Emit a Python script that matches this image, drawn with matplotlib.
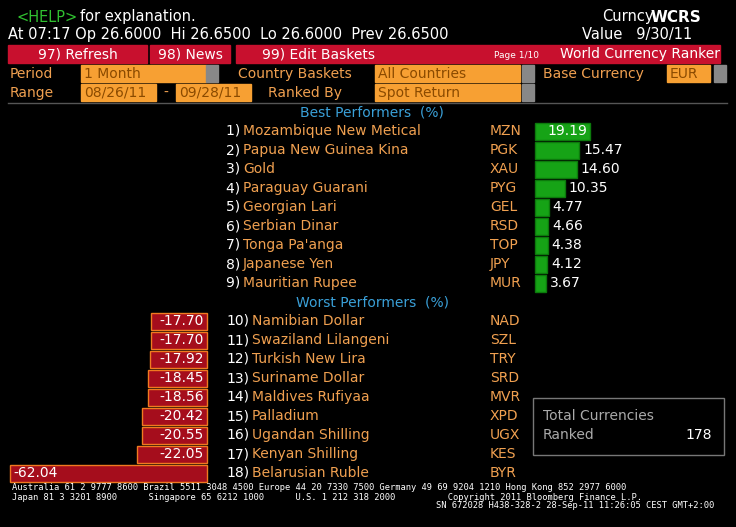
import matplotlib
matplotlib.use('Agg')
import matplotlib.pyplot as plt
from matplotlib.patches import Rectangle

best_names = ["Mozambique New Metical", "Papua New Guinea Kina", "Gold", "Paraguay Guarani",
              "Georgian Lari", "Serbian Dinar", "Tonga Pa'anga", "Japanese Yen", "Mauritian Rupee"]
best_codes = ["MZN", "PGK", "XAU", "PYG", "GEL", "RSD", "TOP", "JPY", "MUR"]
best_vals = [19.19, 15.47, 14.60, 10.35, 4.77, 4.66, 4.38, 4.12, 3.67]

worst_names = ["Namibian Dollar", "Swaziland Lilangeni", "Turkish New Lira", "Suriname Dollar",
               "Maldives Rufiyaa", "Palladium", "Ugandan Shilling", "Kenyan Shilling", "Belarusian Ruble"]
worst_codes = ["NAD", "SZL", "TRY", "SRD", "MVR", "XPD", "UGX", "KES", "BYR"]
worst_vals = [-17.70, -17.70, -17.92, -18.45, -18.56, -20.42, -20.55, -22.05, -62.04]

ORANGE = '#f0a050'
RED = '#c8102e'
BLUE = '#3aa0d8'
FONT = 'DejaVu Sans'

fig = plt.figure(figsize=(7.36, 5.27), dpi=100, facecolor='black')
ax = fig.add_axes([0, 0, 1, 1])
ax.set_xlim(0, 736)
ax.set_ylim(527, 0)
ax.axis('off')
ax.set_facecolor('black')

def t(x, y, s, c='white', size=10, ha='left', **kw):
    ax.text(x, y, s, color=c, fontsize=size, ha=ha, va='center', family=FONT, **kw)

# header
t(16, 17, "<HELP>", c='#30c030', size=10.5)
t(80, 17, "for explanation.", size=10.5)
t(602, 17, "Curncy", size=10.5)
t(651, 17, "WCRS", size=11, weight='bold')
t(8, 35, "At 07:17 Op 26.6000  Hi 26.6500  Lo 26.6000  Prev 26.6500", size=10.5)
t(582, 35, "Value   9/30/11", size=10.5)

# red button bar
for x0, x1, label in [(8, 147, "97) Refresh"), (150, 230, "98) News"), (236, 400, "99) Edit Baskets")]:
    ax.add_patch(Rectangle((x0, 45), x1 - x0, 18, color=RED))
    t((x0 + x1) / 2, 54, label, size=10, ha='center')
ax.add_patch(Rectangle((400, 45), 320, 18, color=RED))
t(494, 55, "Page 1/10", size=6.5)
t(560, 54, "World Currency Ranker", size=10)

# option rows
t(10, 74, "Period", c=ORANGE)
ax.add_patch(Rectangle((81, 65), 125, 17, color='#f7a033'))
t(84, 74, "1 Month", c='#8a4a00')
t(238, 74, "Country Baskets", c=ORANGE)
ax.add_patch(Rectangle((375, 65), 145, 17, color='#f7a033'))
t(378, 74, "All Countries", c='#8a4a00')
t(543, 74, "Base Currency", c=ORANGE)
ax.add_patch(Rectangle((667, 65), 43, 17, color='#f7a033'))
t(670, 74, "EUR", c='#8a4a00')
for bx, by in [(206, 65), (522, 65), (714, 65), (522, 84)]:
    ax.add_patch(Rectangle((bx, by), 12, 17, color='#888888'))
t(10, 93, "Range", c=ORANGE)
ax.add_patch(Rectangle((81, 84), 75, 17, color='#f7a033'))
t(84, 93, "08/26/11", c='#8a4a00')
t(163, 93, "-", c=ORANGE)
ax.add_patch(Rectangle((176, 84), 75, 17, color='#f7a033'))
t(179, 93, "09/28/11", c='#8a4a00')
t(268, 93, "Ranked By", c=ORANGE)
ax.add_patch(Rectangle((375, 84), 145, 17, color='#f7a033'))
t(378, 93, "Spot Return", c='#8a4a00')
ax.plot([8, 727], [103, 103], color='#555555', lw=1)

t(372, 113, "Best Performers  (%)", c=BLUE, ha='center')
t(372, 302, "Worst Performers  (%)", c=BLUE, ha='center')

# best performers
best_scale = 2.87
for i, (n, c, v) in enumerate(zip(best_names, best_codes, best_vals)):
    y = 131 + 19 * i
    t(226, y, f"{i + 1}) ", size=10)
    t(243, y, n, c=ORANGE)
    t(490, y, c, c=ORANGE)
    w = v * best_scale
    ax.barh(y, w, left=535, height=17, color='#16a316', edgecolor='#0c7a0c', lw=1)
    if w > 50:
        t(535 + w - 3, y, f"{v:.2f}", ha='right', size=10)
    else:
        t(535 + w + 4, y, f"{v:.2f}", size=10)

# worst performers
worst_scale = 3.18
for i, (n, c, v) in enumerate(zip(worst_names, worst_codes, worst_vals)):
    y = 321 + 19 * i
    num = i + 10
    t(226, y, f"{num})", size=10)
    t(252, y, n, c=ORANGE)
    t(490, y, c, c=ORANGE)
    w = -v * worst_scale
    ax.barh(y, -w, left=207, height=17, color='#a50d1c', edgecolor='#f07a20', lw=1)
    if w > 100:
        t(207 - w + 4, y, f"{v:.2f}", size=10)
    else:
        t(204, y, f"{v:.2f}", ha='right', size=10)

# total box
ax.add_patch(Rectangle((533, 398), 191, 57, fill=False, edgecolor='#777777', lw=1))
t(543, 416, "Total Currencies", c='#aaaaaa')
t(543, 435, "Ranked", c='#aaaaaa')
t(712, 435, "178", ha='right')

# footer
fm = dict(family='DejaVu Sans Mono', fontsize=6.3, color='white', va='center')
ax.text(12, 488, "Australia 61 2 9777 8600 Brazil 5511 3048 4500 Europe 44 20 7330 7500 Germany 49 69 9204 1210 Hong Kong 852 2977 6000", **fm)
ax.text(12, 497, "Japan 81 3 3201 8900      Singapore 65 6212 1000      U.S. 1 212 318 2000          Copyright 2011 Bloomberg Finance L.P.", **fm)
ax.text(714, 506, "SN 672028 H438-328-2 28-Sep-11 11:26:05 CEST GMT+2:00", ha='right', **fm)

fig.savefig('out.png', dpi=100, facecolor='black')
